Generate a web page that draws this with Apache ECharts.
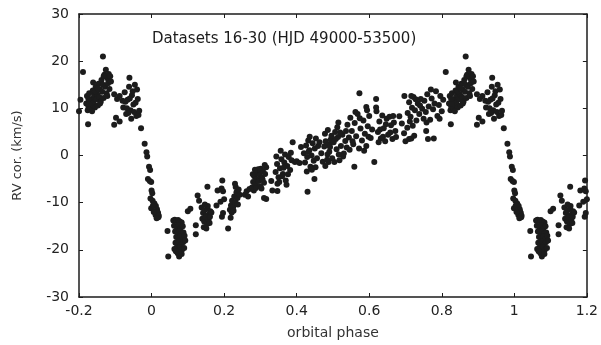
<!DOCTYPE html>
<html>
<head>
<meta charset="utf-8">
<script src="https://cdn.jsdelivr.net/npm/echarts@6/dist/echarts.min.js"></script>
<style>
  html, body { margin: 0; padding: 0; background: #fff; }
  #chart { width: 601px; height: 345px; }
</style>
</head>
<body>
<div id="chart"></div>
<script>
// orbital phase in [0, 1) -> RV (km/s)
const descent = [
  [0.971, 5.8], [0.981, 2.5], [0.986, 0.7], [0.988, -0.2], [0.993, -2.4], [0.996, -3.1],
  [0.990, -5.0], [0.995, -5.4], [0.999, -5.6], [0.000, -7.4], [0.002, -8.0], [0.997, -9.1],
  [0.003, -9.6], [0.999, -11.2], [0.008, -10.2], [0.012, -10.7], [0.015, -11.4], [0.018, -12.2],
  [0.019, -13.1], [0.011, -12.6], [0.016, -11.9], [0.006, -12.0], [0.020, -12.8], [0.014, -13.3],
  [0.004, -10.6]
]
const minimum = [
  [0.044, -16.0], [0.046, -21.4], [0.076, -21.4],
  [0.060, -13.8], [0.064, -13.6], [0.068, -13.9], [0.073, -13.7], [0.078, -14.0], [0.083, -14.2],
  [0.062, -14.9], [0.070, -15.2], [0.075, -14.8], [0.080, -15.4], [0.086, -15.0], [0.065, -16.1],
  [0.072, -16.4], [0.077, -16.0], [0.082, -16.6], [0.088, -16.3], [0.068, -17.3], [0.074, -17.6],
  [0.079, -17.2], [0.085, -17.8], [0.091, -17.0], [0.066, -18.5], [0.071, -18.8], [0.076, -18.3],
  [0.081, -18.9], [0.087, -18.4], [0.069, -19.6], [0.074, -19.9], [0.079, -19.4], [0.084, -20.0],
  [0.072, -20.7], [0.078, -20.5], [0.083, -20.9], [0.090, -19.6], [0.093, -18.0], [0.063, -19.8],
  [0.067, -20.3]
]
const rise1 = [
  [0.100, -11.8], [0.107, -11.3], [0.122, -16.7], [0.122, -14.8], [0.127, -8.5], [0.131, -9.6],
  [0.138, -11.0], [0.142, -12.2], [0.146, -11.6], [0.150, -12.8], [0.154, -11.3], [0.158, -12.5],
  [0.162, -11.8], [0.140, -13.4], [0.145, -14.0], [0.149, -13.1], [0.153, -14.5], [0.157, -13.6],
  [0.161, -13.0], [0.165, -12.1], [0.144, -15.2], [0.151, -15.5], [0.155, -10.7], [0.147, -10.4],
  [0.160, -14.3], [0.154, -6.6], [0.179, -10.6], [0.182, -7.4], [0.195, -5.3], [0.193, -7.0],
  [0.197, -7.6], [0.194, -13.0], [0.197, -12.2], [0.211, -15.5], [0.190, -9.8], [0.200, -9.3]
]
const rise2 = [
  [0.216, -11.5], [0.219, -10.6], [0.222, -9.6], [0.225, -10.9], [0.228, -8.7], [0.231, -9.9],
  [0.234, -7.8], [0.237, -9.0], [0.240, -7.2], [0.243, -8.3], [0.221, -12.1], [0.226, -11.7],
  [0.232, -6.7], [0.238, -10.4], [0.230, -6.0], [0.218, -13.2],
  [0.257, -8.3], [0.262, -7.6], [0.266, -8.7], [0.270, -7.1],
  [0.277, -6.8], [0.280, -5.6], [0.283, -4.4], [0.286, -6.2], [0.289, -5.0], [0.292, -3.6],
  [0.295, -5.4], [0.298, -4.1], [0.301, -2.8], [0.304, -4.7], [0.307, -3.3], [0.310, -5.8],
  [0.313, -3.9], [0.316, -2.5], [0.282, -7.4], [0.288, -6.9], [0.294, -2.9], [0.300, -6.5],
  [0.306, -5.1], [0.279, -4.0], [0.285, -3.0], [0.303, -7.0], [0.312, -2.0],
  [0.316, -9.2], [0.310, -9.0]
]
const middle = [
  [0.330, -5.4], [0.333, -7.4], [0.347, -7.5], [0.347, -6.0],
  [0.342, -3.5], [0.346, -1.8], [0.350, -4.6], [0.354, -2.7], [0.358, -0.8], [0.362, -3.9],
  [0.366, -1.5], [0.370, -5.3], [0.374, -2.2], [0.378, -0.3], [0.382, -3.1], [0.386, -1.0],
  [0.352, -5.6], [0.360, -4.4], [0.368, 0.2], [0.376, -4.0], [0.344, -0.2], [0.356, 1.0],
  [0.384, 0.6], [0.364, -2.6], [0.372, -6.2],
  [0.389, 2.8], [0.395, -1.4], [0.400, -1.2], [0.408, -1.6], [0.412, 1.8], [0.430, -7.7], [0.449, -5.0],
  [0.420, 0.5], [0.423, -1.5], [0.426, 2.1], [0.429, -0.3], [0.432, 3.2], [0.435, 1.1],
  [0.438, -2.4], [0.441, 0.0], [0.444, 2.6], [0.447, -1.1], [0.450, 1.5], [0.453, 3.6],
  [0.456, -0.6], [0.459, 2.0], [0.428, -3.4], [0.436, 4.0], [0.442, -3.0], [0.433, 0.8], [0.452, -2.5],
  [0.463, 2.8], [0.468, 0.5], [0.472, -1.3], [0.476, 1.9], [0.480, 3.0], [0.485, 0.2], [0.488, -1.4], [0.490, 2.4]
]
const upper = [
  [0.478, 4.6], [0.482, 2.2], [0.486, 5.4], [0.490, 0.8], [0.494, 3.4], [0.498, -0.6],
  [0.502, 2.8], [0.506, 5.0], [0.510, 1.3], [0.514, 3.9], [0.518, -1.0], [0.522, 2.0],
  [0.526, 4.4], [0.530, 0.4], [0.534, 3.1], [0.538, 1.7], [0.496, 4.2], [0.504, -1.4],
  [0.512, 6.0], [0.520, 4.9], [0.528, -0.2], [0.484, -0.9], [0.492, 1.8], [0.508, 3.5],
  [0.516, 0.2], [0.536, 5.2], [0.515, 7.0], [0.479, -2.2], [0.559, -2.4], [0.614, -1.4],
  [0.540, 6.5], [0.544, 3.8], [0.548, 8.0], [0.552, 5.2], [0.556, 2.4], [0.560, 6.9],
  [0.564, 4.1], [0.568, 8.8], [0.572, 1.5], [0.576, 5.7], [0.580, 3.2], [0.584, 7.4],
  [0.588, 4.6], [0.592, 2.0], [0.596, 6.2], [0.600, 8.4], [0.604, 3.7], [0.608, 5.5],
  [0.546, 1.2], [0.562, 9.2], [0.574, 7.9], [0.586, 1.0], [0.598, 4.0], [0.554, 3.0],
  [0.573, 13.2], [0.619, 12.0], [0.697, 12.6], [0.592, 10.3], [0.594, 9.6], [0.619, 10.2], [0.620, 9.4],
  [0.624, 5.0], [0.628, 7.2], [0.632, 3.6], [0.636, 8.5], [0.640, 5.8], [0.644, 3.0],
  [0.648, 7.8], [0.652, 4.4], [0.656, 8.2], [0.660, 6.4], [0.664, 3.5], [0.668, 7.0],
  [0.672, 5.2], [0.630, 5.5], [0.646, 6.6], [0.658, 4.9], [0.638, 4.0], [0.666, 8.4],
  [0.626, 2.8], [0.674, 3.9],
  [0.683, 8.3], [0.690, 6.8], [0.696, 4.7], [0.700, 3.0], [0.705, 5.9], [0.710, 3.5],
  [0.716, 3.6], [0.720, 6.3], [0.724, 4.2], [0.712, 7.2],
  [0.706, 9.0], [0.710, 11.3], [0.714, 8.2], [0.718, 10.1], [0.722, 12.4], [0.726, 9.6],
  [0.730, 7.4], [0.734, 11.0], [0.738, 8.8], [0.742, 12.0], [0.746, 9.9], [0.750, 7.8],
  [0.728, 11.9], [0.716, 12.6], [0.740, 10.6]
]
const peak = [
  [0.752, 11.6], [0.756, 9.2], [0.760, 13.0], [0.764, 10.4], [0.768, 7.6], [0.772, 12.1],
  [0.776, 9.8], [0.780, 11.0], [0.784, 13.6], [0.788, 8.4], [0.792, 10.7], [0.796, 12.6],
  [0.800, 9.4], [0.804, 11.8], [0.770, 14.0], [0.758, 7.0], [0.794, 7.8],
  [0.757, 5.2], [0.762, 3.5], [0.778, 3.6],
  [0.811, 17.7], [0.866, 21.0], [0.839, 15.5], [0.825, 6.6],
  [0.820, 11.0], [0.822, 12.6], [0.824, 9.6], [0.826, 10.4], [0.828, 13.2], [0.830, 11.5],
  [0.832, 9.9], [0.834, 12.0], [0.836, 10.8], [0.838, 13.8], [0.840, 11.2], [0.842, 12.8],
  [0.844, 10.2], [0.846, 14.5], [0.848, 11.9], [0.850, 13.0], [0.852, 10.6], [0.854, 15.2],
  [0.856, 12.4], [0.858, 14.0], [0.860, 11.4], [0.862, 16.0], [0.864, 13.5], [0.866, 15.0],
  [0.868, 12.2], [0.870, 17.1], [0.872, 14.6], [0.874, 18.2], [0.876, 13.2], [0.878, 16.4],
  [0.880, 15.3], [0.882, 17.3], [0.884, 14.1], [0.886, 16.8], [0.888, 15.7], [0.826, 12.0],
  [0.836, 9.4], [0.844, 13.6], [0.858, 11.0], [0.868, 16.8], [0.878, 12.6], [0.852, 14.2], [0.828, 10.9]
]
const postPeak = [
  [0.897, 13.0], [0.905, 12.0], [0.912, 12.6], [0.920, 11.6], [0.939, 16.5],
  [0.922, 10.2], [0.926, 13.4], [0.930, 8.8], [0.934, 11.8], [0.938, 14.6], [0.942, 9.6],
  [0.946, 12.8], [0.950, 10.8], [0.954, 15.0], [0.958, 8.4], [0.962, 12.0], [0.944, 7.8],
  [0.932, 10.0], [0.948, 13.6], [0.956, 11.2], [0.940, 12.1], [0.952, 9.2], [0.960, 14.0],
  [0.928, 11.4], [0.936, 9.0],
  [0.897, 6.5], [0.902, 8.0], [0.912, 7.2], [0.964, 8.6], [0.966, 9.5]
]

const xTicks = [-0.2, 0, 0.2, 0.4, 0.6, 0.8, 1, 1.2]
const yTicks = [-30, -20, -10, 0, 10, 20, 30]
const titleText = 'Datasets 16-30 (HJD 49000-53500)'

// phase-folded: every point shown once, plus its copy one cycle away if it falls in [-0.2, 1.2]
const base = [].concat(descent, minimum, rise1, rise2, middle, upper, peak, postPeak)
const points = []
base.forEach(([p, v]) => {
  points.push([p, v])
  if (p >= 0.8) points.push([p - 1, v])
  if (p <= 0.2) points.push([p + 1, v])
})

const chart = echarts.init(document.getElementById('chart'))
const ink = '#1c1c1c'
const font = 'DejaVu Sans, Liberation Sans, sans-serif'

const axisCommon = {
  axisLine: { show: true, onZero: false, lineStyle: { color: ink, width: 1.5 } },
  axisTick: { show: true, inside: true, length: 4, lineStyle: { color: ink, width: 1 } },
  splitLine: { show: false }
}

chart.setOption({
  animation: false,
  backgroundColor: '#fff',
  grid: { left: 79, right: 13, top: 14, bottom: 46 },
  graphic: [{
    type: 'text', left: 152, top: 32,
    style: { text: titleText, fill: ink, font: '15px ' + font }
  }],
  xAxis: [
    Object.assign({
      type: 'value', min: xTicks[0], max: xTicks[xTicks.length - 1], interval: 0.2,
      name: 'orbital phase', nameLocation: 'middle', nameGap: 29,
      nameTextStyle: { color: '#333', fontSize: 14, fontFamily: font },
      axisLabel: { color: '#222', fontSize: 14, fontFamily: font, margin: 7,
        formatter: v => String(+v.toFixed(1)) }
    }, axisCommon),
    Object.assign({
      type: 'value', position: 'top', min: xTicks[0], max: xTicks[xTicks.length - 1], interval: 0.2,
      axisLabel: { show: false }
    }, axisCommon)
  ],
  yAxis: [
    Object.assign({
      type: 'value', min: yTicks[0], max: yTicks[yTicks.length - 1], interval: 10,
      name: 'RV cor. (km/s)', nameLocation: 'middle', nameGap: 55, nameRotate: 90,
      nameTextStyle: { color: '#333', fontSize: 13, fontFamily: font },
      axisLabel: { color: '#222', fontSize: 14, fontFamily: font, margin: 10 }
    }, axisCommon),
    Object.assign({
      type: 'value', position: 'right', min: yTicks[0], max: yTicks[yTicks.length - 1], interval: 10,
      axisLabel: { show: false }
    }, axisCommon)
  ],
  series: [{
    type: 'scatter',
    data: points,
    symbolSize: 6,
    itemStyle: { color: ink, opacity: 1 }
  }]
})
</script>
</body>
</html>
